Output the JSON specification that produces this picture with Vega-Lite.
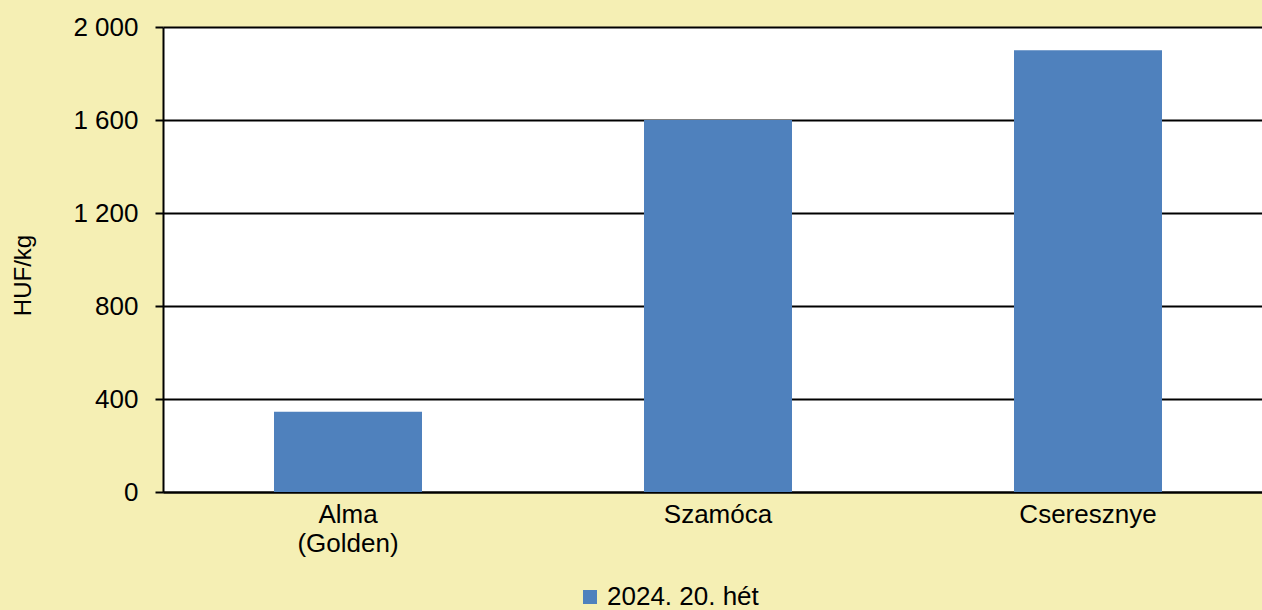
{
  "$schema": "https://vega.github.io/schema/vega-lite/v6.json",
  "autosize": {"type": "none"},
  "width": 1099,
  "height": 465,
  "padding": {"left": 163, "top": 27, "right": 0, "bottom": 118},
  "background": "#F5EFB4",
  "config": {
    "view": {"fill": "white", "stroke": null},
    "font": "Liberation Sans"
  },
  "data": {
    "values": [
      {"termek": "Alma (Golden)", "ar": 345, "sorozat": "2024. 20. hét"},
      {"termek": "Szamóca", "ar": 1600, "sorozat": "2024. 20. hét"},
      {"termek": "Cseresznye", "ar": 1900, "sorozat": "2024. 20. hét"}
    ]
  },
  "mark": {"type": "bar"},
  "encoding": {
    "x": {
      "field": "termek",
      "type": "nominal",
      "sort": null,
      "scale": {"range": [0, 1110], "paddingInner": 0.6, "paddingOuter": 0.3},
      "axis": {
        "title": null,
        "labelAngle": 0,
        "labelFontSize": 26,
        "labelColor": "black",
        "labelPadding": 9,
        "labelLineHeight": 29,
        "ticks": false,
        "domainColor": "black",
        "domainWidth": 2,
        "grid": false,
        "labelExpr": "datum.value == 'Alma (Golden)' ? ['Alma', '(Golden)'] : datum.value"
      }
    },
    "y": {
      "field": "ar",
      "type": "quantitative",
      "scale": {"domain": [0, 2000]},
      "axis": {
        "title": "HUF/kg",
        "titleFontSize": 24,
        "titleFontWeight": "normal",
        "titleColor": "black",
        "titleX": -140,
        "titleY": 248,
        "titleAlign": "center",
        "titleBaseline": "middle",
        "titleAngle": 270,
        "values": [0, 400, 800, 1200, 1600, 2000],
        "labelExpr": "replace(format(datum.value, ','), ',', ' ')",
        "labelFontSize": 26,
        "labelColor": "black",
        "labelPadding": 17,
        "tickSize": 8,
        "tickColor": "black",
        "tickWidth": 2,
        "domainColor": "black",
        "domainWidth": 2,
        "grid": true,
        "gridColor": "black",
        "gridWidth": 2,
        "gridOpacity": 1
      }
    },
    "color": {
      "field": "sorozat",
      "type": "nominal",
      "scale": {"range": ["#4F81BD"]},
      "legend": {
        "title": null,
        "orient": "none",
        "legendX": 414,
        "legendY": 557,
        "symbolType": "square",
        "symbolSize": 196,
        "symbolStrokeWidth": 0,
        "labelFontSize": 26,
        "labelColor": "black",
        "labelOffset": 4
      }
    }
  }
}
